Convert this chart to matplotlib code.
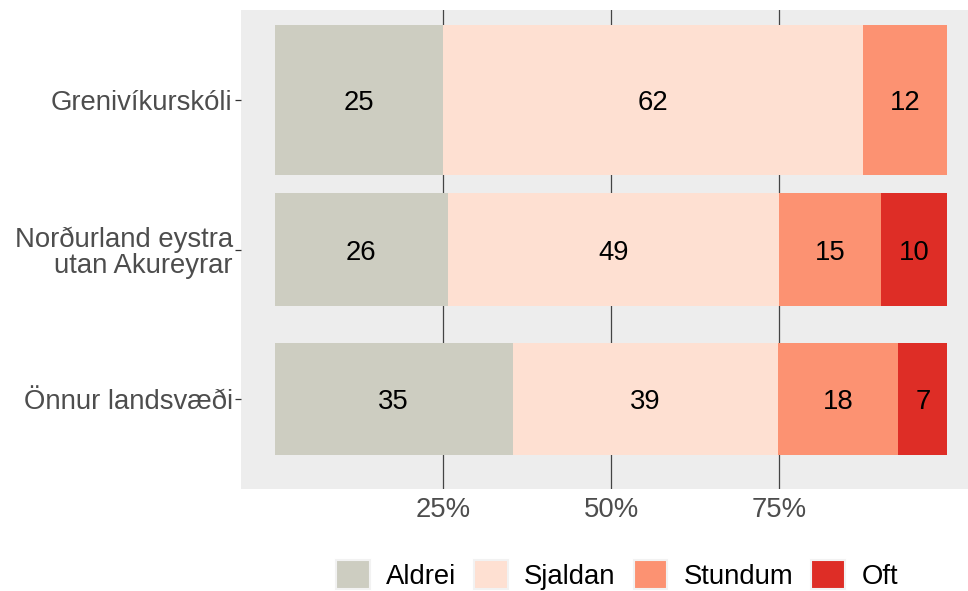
import matplotlib.pyplot as plt
import numpy as np

plt.rcParams['font.family'] = ['Liberation Sans', 'DejaVu Sans']

# data (percent)
groups = ['Grenivíkurskóli', 'Norðurland eystra\nutan Akureyrar', 'Önnur landsvæði']
categories = ['Aldrei', 'Sjaldan', 'Stundum', 'Oft']
aldrei = [25.0, 25.7, 35.4]
sjaldan = [62.5, 49.3, 39.4]
stundum = [12.5, 15.2, 17.9]
oft = [0.0, 9.8, 7.3]
bar_heights = [1.0, 0.75, 0.75]
colors = ['#CDCDC1', '#FEE0D2', '#FC9272', '#DE2D26']

fig = plt.figure(figsize=(9.68, 5.91), dpi=100)
ax = fig.add_axes([241 / 968, 1 - 489 / 591, 740 / 968, 479 / 591])
ax.set_facecolor('#EDEDED')

ypos = np.arange(len(groups))[::-1] + 1
left = np.zeros(len(groups))
for vals, col in zip([aldrei, sjaldan, stundum, oft], colors):
    vals = np.array(vals)
    ax.barh(ypos, vals, left=left, height=bar_heights, color=col, zorder=2)
    for y, l, v in zip(ypos, left, vals):
        if v > 0:
            ax.text(l + v / 2, y, '%d' % round(v), ha='center', va='center_baseline',
                    fontsize=19.8, color='black', zorder=3)
    left += vals

ax.set_xlim(-5, 105)
ax.set_ylim(0.4, 3.6)
ax.set_xticks([25, 50, 75])
ax.set_xticklabels(['25%', '50%', '75%'])
ax.set_yticks(ypos)
ax.set_yticklabels(groups)
ax.grid(axis='x', color='#444444', linewidth=0.9, zorder=1)
ax.set_axisbelow(True)
for s in ax.spines.values():
    s.set_visible(False)
ax.tick_params(axis='x', length=0, labelsize=19.8, labelcolor='#4D4D4D', pad=6)
ax.tick_params(axis='y', length=4, width=0.9, color='#333333', labelsize=19.8,
               labelcolor='#4D4D4D', pad=2)
for t in ax.get_yticklabels():
    t.set_multialignment('right')
    t.set_linespacing(1.0)
    t.set_verticalalignment('center_baseline')

handles = [plt.Rectangle((0, 0), 1, 1, facecolor=c, edgecolor='#F2F2F2', linewidth=1.5)
           for c in colors]
fig.legend(handles, categories, loc='center', bbox_to_anchor=(617 / 968, 1 - 575 / 591),
           ncol=4, frameon=False, fontsize=19.8, handlelength=1.22, handleheight=1.22,
           handletextpad=0.6, columnspacing=0.65, borderpad=0)

fig.savefig('out.png', dpi=100)
